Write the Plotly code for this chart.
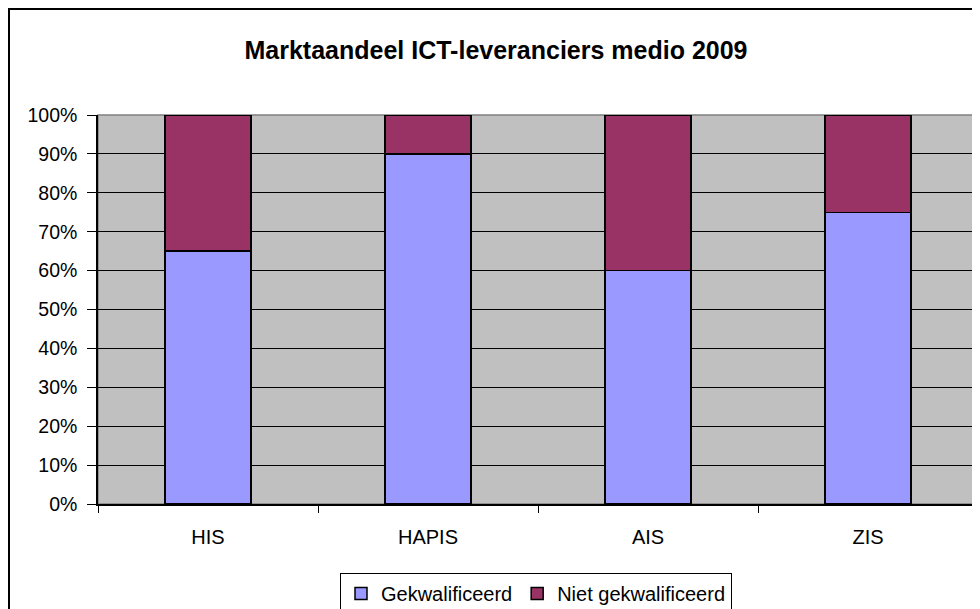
import plotly.graph_objects as go

categories = ["HIS", "HAPIS", "AIS", "ZIS"]
gekwalificeerd = [0.65, 0.90, 0.60, 0.75]
niet_gekwalificeerd = [0.35, 0.10, 0.40, 0.25]
y_ticks = [i / 10 for i in range(11)]
y_tick_labels = [f"{i * 10}%" for i in range(11)]

# page has an 8px body margin; layout numbers are in figure pixels
L, R, T, B = 90, 10, 107, 113
PW = 980 - L - R
PH = 609 - T - B

fig = go.Figure()
fig.add_trace(go.Bar(
    x=categories, y=gekwalificeerd, name="Gekwalificeerd",
    marker=dict(color="#9999FF", line=dict(color="black", width=1.5)),
))
fig.add_trace(go.Bar(
    x=categories, y=niet_gekwalificeerd, name="Niet gekwalificeerd",
    marker=dict(color="#993366", line=dict(color="black", width=1.5)),
))

fig.update_layout(
    barmode="stack",
    bargap=0.61,
    width=980, height=609,
    margin=dict(l=L, r=R, t=T, b=B, autoexpand=False),
    paper_bgcolor="white",
    plot_bgcolor="#C0C0C0",
    font=dict(family="Liberation Sans, Arial, sans-serif", size=20, color="black"),
    title=dict(text="<b>Marktaandeel ICT-leveranciers medio 2009</b>",
               x=(496 - 8 - L) / PW, xref="paper", xanchor="center",
               y=1 - 42 / 609, yanchor="middle",
               font=dict(size=25, color="black")),
    showlegend=True,
    legend=dict(orientation="h", x=(536 - 8 - L) / PW, xanchor="center",
                y=-(565 - (609 - B)) / PH, yanchor="top",
                bordercolor="black", borderwidth=1, bgcolor="white",
                font=dict(size=20), itemwidth=30, traceorder="normal"),
    xaxis=dict(tickson="boundaries", ticks="outside", ticklen=7, tickcolor="black",
               showline=True, linecolor="black", linewidth=1.5, showgrid=False,
               tickfont=dict(size=20), ticklabelstandoff=14),
    yaxis=dict(range=[0, 1], tickvals=y_ticks, ticktext=y_tick_labels,
               ticks="outside", ticklen=9, tickcolor="black",
               showline=True, linecolor="black", linewidth=1.5,
               showgrid=True, gridcolor="black", gridwidth=1, zeroline=False,
               tickfont=dict(size=19.5), ticklabelstandoff=6),
    shapes=[
        dict(type="rect", xref="x domain", yref="y domain", x0=0, x1=1, y0=0, y1=1,
             line=dict(color="#808080", width=1.5), layer="below"),
        dict(type="rect", xref="paper", yref="paper", x0=(1 - L) / PW, x1=1.2,
             y0=-0.6, y1=(609 - B - 1) / PH, line=dict(color="black", width=2)),
    ],
)

fig.write_html("out.html")
